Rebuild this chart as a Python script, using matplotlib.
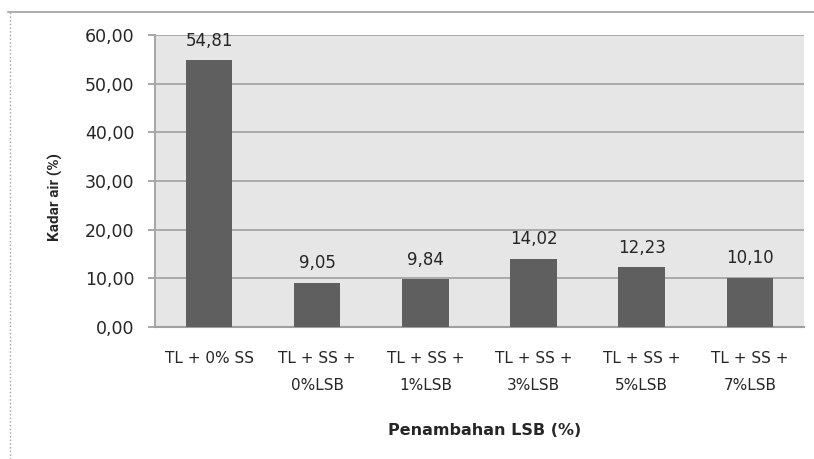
import matplotlib.pyplot as plt
from matplotlib.lines import Line2D

# --- Data ---
categories = ['TL + 0% SS', 'TL + SS +\n0%LSB', 'TL + SS +\n1%LSB',
              'TL + SS +\n3%LSB', 'TL + SS +\n5%LSB', 'TL + SS +\n7%LSB']
kadar_air = [54.81, 9.05, 9.84, 14.02, 12.23, 10.10]
y_ticks = [0, 10, 20, 30, 40, 50, 60]

plt.rcParams['font.family'] = ['DejaVu Sans']
TXT = '#262626'

fig = plt.figure(figsize=(8.14, 4.59), dpi=100)
ax = fig.add_axes([0.1904, 0.2876, 0.7973, 0.6361])

ax.set_facecolor('#e6e6e6')
x = range(len(categories))
ax.bar(x, kadar_air, width=0.43, color='#5f5f5f', zorder=3)

for xi, v in zip(x, kadar_air):
    ax.annotate(f"{v:.2f}".replace('.', ','), (xi, v), xytext=(0, 10.5),
                textcoords='offset points', ha='center', va='baseline',
                fontsize=12, color=TXT)

ax.set_xlim(-0.5, len(categories) - 0.5)
ax.set_ylim(0, 60)
ax.set_yticks(y_ticks)
ax.set_yticklabels([f"{t:.2f}".replace('.', ',') for t in y_ticks], fontsize=12.5, color=TXT)
ax.set_xticks(list(x))
ax.set_xticklabels(categories, fontsize=11, color=TXT, linespacing=2.0, va='top')
ax.tick_params(axis='x', length=0, pad=17)
ax.tick_params(axis='y', length=5, color='#9a9a9a', width=1.2, pad=10)

ax.grid(axis='y', color='#a0a0a0', linewidth=1.2, zorder=1)
for s in ['top', 'right']:
    ax.spines[s].set_visible(False)
ax.spines['left'].set_color('#a8a8a8')
ax.spines['left'].set_linewidth(1.5)
ax.spines['bottom'].set_color('#a0a0a0')
ax.spines['bottom'].set_linewidth(1.5)

ax.set_ylabel('Kadar air (%)', fontsize=11, fontweight='bold', color=TXT,
              family=['Liberation Sans Narrow', 'Roboto', 'DejaVu Sans'])
ax.yaxis.set_label_coords(-0.154, 0.445)
ax.yaxis.label.set_va('center')
ax.set_xlabel('Penambahan LSB (%)', fontsize=11.5, fontweight='bold', color=TXT)
ax.xaxis.set_label_coords(0.508, -0.353)
ax.xaxis.label.set_va('center')

# outer chart frame (top and left edges)
fig.add_artist(Line2D([8 / 814, 1.0], [1 - 12 / 459] * 2, color='#a0a0a0', linewidth=1.2))
fig.add_artist(Line2D([10 / 814] * 2, [0, 1 - 12 / 459], color='#a0a0a0', linewidth=1.0, linestyle=':'))

fig.savefig('out.png', dpi=100)
